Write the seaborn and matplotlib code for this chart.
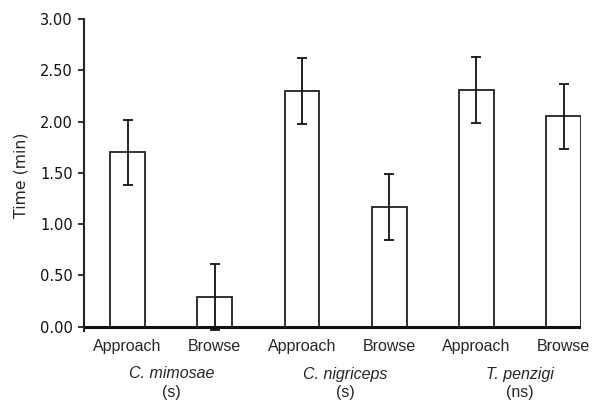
import pandas as pd
import matplotlib.pyplot as plt
import matplotlib.transforms as mtransforms
import seaborn as sns

# values
behaviour = ['Approach', 'Browse', 'Approach', 'Browse', 'Approach', 'Browse']
species = ['C. mimosae', 'C. nigriceps', 'T. penzigi']
signif = ['(s)', '(s)', '(ns)']
mean_time = [1.70, 0.29, 2.30, 1.17, 2.31, 2.05]
se_time = [0.32, 0.32, 0.32, 0.32, 0.32, 0.32]

df = pd.DataFrame({'slot': [str(i) for i in range(6)],
                   'time': mean_time})

sns.set_style('white')
plt.rcParams['font.family'] = ['DejaVu Sans']

fig = plt.figure(figsize=(5.96, 4.04), dpi=100)
ax = fig.add_axes([0.141, 0.181, 0.834, 0.772])

sns.barplot(data=df, x='slot', y='time', color='white', edgecolor='#222222',
            linewidth=1.3, width=0.4, ax=ax)
ax.errorbar(range(6), mean_time, yerr=se_time, fmt='none', ecolor='#111111',
            elinewidth=1.3, capsize=3.5, capthick=1.3)

ax.axhline(0, color='#111111', lw=2.2, zorder=5)
ax.set_xlim(-0.5, 5.2)
ax.set_ylim(-0.04, 3.0)
ax.set_yticks([0, 0.5, 1.0, 1.5, 2.0, 2.5, 3.0])
ax.set_yticklabels(['%.2f' % v for v in ax.get_yticks()], fontsize=10.5)
ax.set_xticks(range(6))
ax.set_xticklabels(behaviour, fontsize=11.5, family='Liberation Sans')
ax.tick_params(axis='x', length=0, pad=6)
ax.tick_params(axis='y', length=4, width=1.2, direction='out', left=True, pad=4,
               colors='#111111')
ax.set_xlabel('')
ax.set_ylabel('Time (min)', fontsize=11.3, labelpad=8)

for s in ['top', 'right', 'bottom']:
    ax.spines[s].set_visible(False)
ax.spines['left'].set_color('#222222')
ax.spines['left'].set_linewidth(1.5)

trans = mtransforms.blended_transform_factory(ax.transData, fig.transFigure)
for i, (sp, sg) in enumerate(zip(species, signif)):
    ax.text(2 * i + 0.5, 1 - 374 / 404, sp, transform=trans, ha='center',
            va='center', fontsize=11.5, style='italic', family='Liberation Sans')
    ax.text(2 * i + 0.5, 1 - 393 / 404, sg, transform=trans, ha='center',
            va='center', fontsize=11.5, family='Liberation Sans')

fig.savefig('out.png', dpi=100)
